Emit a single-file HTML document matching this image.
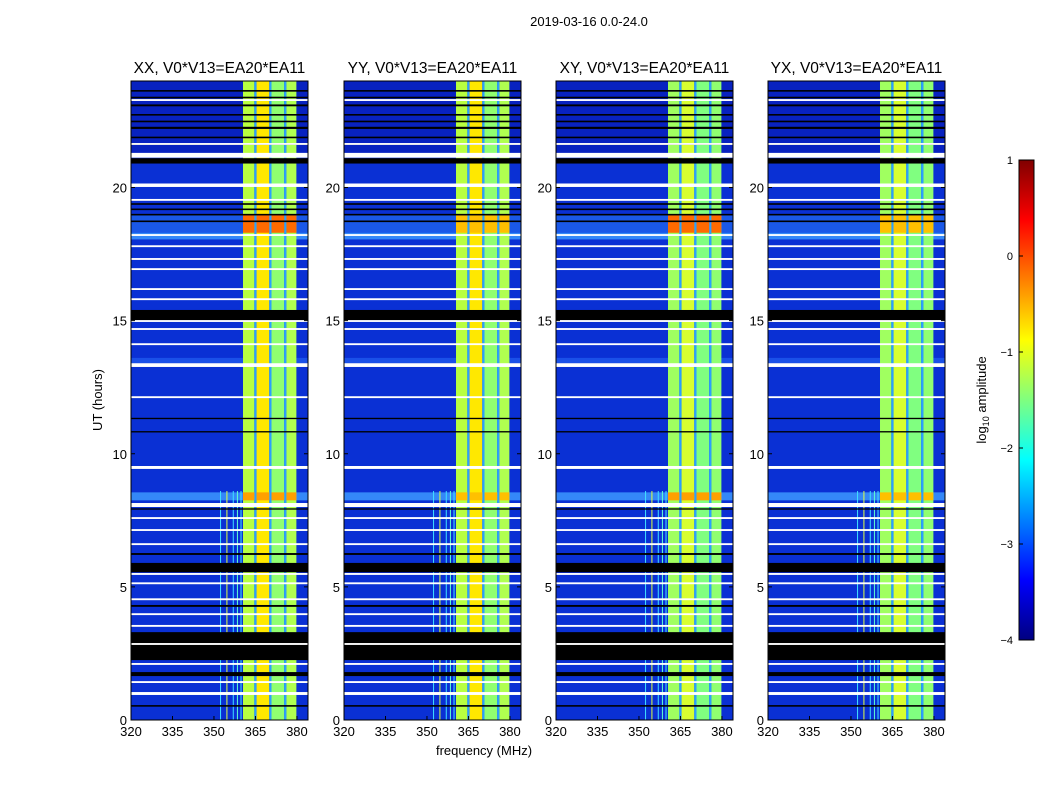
<!DOCTYPE html>
<html><head><meta charset="utf-8"><style>
body{margin:0;background:#fff;font-family:"Liberation Sans",sans-serif;}
svg text{font-family:"Liberation Sans",sans-serif;fill:#000;}
</style></head><body>
<svg id="fig" width="1050" height="800" viewBox="0 0 1050 800">
<defs>
<linearGradient id="jet" x1="0" y1="1" x2="0" y2="0">
<stop offset="0" stop-color="#000080"/><stop offset="0.125" stop-color="#0000ff"/>
<stop offset="0.375" stop-color="#00ffff"/><stop offset="0.625" stop-color="#ffff00"/>
<stop offset="0.875" stop-color="#ff0000"/><stop offset="1" stop-color="#800000"/>
</linearGradient>
</defs>
<text x="589" y="26" font-size="13" text-anchor="middle">2019-03-16 0.0-24.0</text>
<text x="484" y="755" font-size="13" text-anchor="middle">frequency (MHz)</text>
<text transform="translate(102,400) rotate(-90)" font-size="13" text-anchor="middle">UT (hours)</text>
<g id="panels"></g>
<g id="cbar">
<rect x="1019" y="160" width="15" height="480" fill="url(#jet)" stroke="#000" stroke-width="1"/>
</g>
<text transform="translate(986,400) rotate(-90)" font-size="13" text-anchor="middle">log<tspan font-size="9" dy="3">10</tspan><tspan dy="-3"> amplitude</tspan></text>
</svg>
<script>
// ---- data ----
const panelTitles = ["XX, V0*V13=EA20*EA11","YY, V0*V13=EA20*EA11","XY, V0*V13=EA20*EA11","YX, V0*V13=EA20*EA11"];
const xTicks = [320,335,350,365,380];
const yTicks = [0,5,10,15,20];
const cbTicks = [1,0,-1,-2,-3,-4];
const cbLabels = ["1","0","\u22121","\u22122","\u22123","\u22124"];
// RFI band sub-columns [startMHz, endMHz, colour, cross-pol colour]
const bandCols = [[360.5,364.6,"#b8ff40","#a0ff60"],[364.6,365.4,"#2aa0ff","#2aa0ff"],[365.4,370,"#ffe800","#d8ff30"],[370,370.8,"#2aa0ff","#2aa0ff"],[370.8,375.4,"#90ff70","#80ff80"],[375.4,376.2,"#2aa0ff","#2aa0ff"],[376.2,379.8,"#b0ff50","#90ff70"]];
// flagged (black) time ranges, hours
const flagStart = [20.9,15.0,5.55,2.25,1.65,23.6,23.35,23.05,22.7,22.45,22.2,21.85,21.6,19.35,19.15,18.95,18.7,11.3,10.8,7.9,6.2,4.25,0.5];
const flagEnd   = [21.1,15.4,5.9,3.3,1.8,23.66,23.41,23.12,22.76,22.51,22.28,21.91,21.66,19.41,19.21,19.01,18.76,11.35,10.85,7.95,6.27,4.32,0.56];
// blank (white) time rows, hours and height
const gapTime = [23.25,21.6,21.12,20.02,19.5,18.18,17.76,17.28,16.9,16.15,15.77,14.95,14.65,14.08,13.26,12.09,9.43,8.0,7.55,7.1,6.57,5.45,5.1,4.5,3.94,3.5,2.82,2.07,1.39,0.94];
const gapLen  = [0.07,0.07,0.18,0.13,0.07,0.07,0.07,0.07,0.07,0.07,0.07,0.07,0.07,0.07,0.14,0.07,0.11,0.15,0.07,0.07,0.07,0.07,0.07,0.07,0.07,0.07,0.07,0.07,0.07,0.11];
// bright rows: start, end, colour
const hotStart = [18.3,8.25,13.4,18.05];
const hotEnd   = [19.0,8.55,13.6,18.3];
const hotBand  = ["#ff6a00","#ffa000",null,null];
const hotBg    = ["#1a58e8","#3488f8","#1a50e8","#3488f8"];
// vertical RFI lines below 8.6h
const rfiLines = [352.2,354.5,356.8,358.3,359.6];
const rfiColor = ["#40e0ff","#e0ff40","#40e0ff","#60ffd0","#40e0ff"];

// ---- layout ----
const LEFTS=[131,344,556,768], PW=177, PTOP=81, PBOT=720, XMIN=320, XMAX=384, YMAX=24;
const SVGNS="http://www.w3.org/2000/svg";
function xs(l,f){return l+(f-XMIN)/(XMAX-XMIN)*PW;}
function ys(h){return PBOT-(h/YMAX)*(PBOT-PTOP);}
function mk(tag,attrs,parent){const e=document.createElementNS(SVGNS,tag);for(const k in attrs)e.setAttribute(k,attrs[k]);parent.appendChild(e);return e;}
const PG=document.getElementById("panels");
LEFTS.forEach((l,pi)=>{
  const cross = pi>=2;
  const g=mk("g",{},PG);
  
  
  mk("rect",{x:l,y:PTOP,width:PW,height:PBOT-PTOP,fill:"#0a30d4"},g);
  mk("rect",{x:l,y:ys(24),width:PW,height:ys(21.3)-ys(24),fill:"#0822c0"},g);
  hotStart.forEach((s,i)=>{mk("rect",{x:l,y:ys(hotEnd[i]),width:PW,height:ys(s)-ys(hotEnd[i]),fill:hotBg[i]},g);});
  bandCols.forEach(c=>{
    const b=mk("rect",{x:xs(l,c[0]),y:PTOP,width:xs(l,c[1])-xs(l,c[0]),height:PBOT-PTOP,fill:cross?c[3]:c[2]},g);
    
    
  });
  hotStart.forEach((s,i)=>{ if(hotBand[i]) bandCols.forEach(c=>{ if(c[2]!="#2aa0ff") mk("rect",{x:xs(l,c[0]),y:ys(hotEnd[i]),width:xs(l,c[1])-xs(l,c[0]),height:ys(s)-ys(hotEnd[i]),fill:(pi==0||pi==2)?hotBand[i]:"#ffc000"},g);});});
  rfiLines.forEach((f,i)=>{const r=mk("rect",{x:xs(l,f),y:ys(8.6),width:1,height:PBOT-ys(8.6),fill:rfiColor[i]},g);
    
    });
  flagStart.forEach((s,i)=>{const r=mk("rect",{x:l,y:ys(flagEnd[i]),width:PW,height:Math.max(1.2,ys(s)-ys(flagEnd[i])),fill:"#000"},g);
    
    });
  gapTime.forEach((t,i)=>{const r=mk("rect",{x:l,y:ys(t+gapLen[i]),width:PW,height:ys(t)-ys(t+gapLen[i]),fill:"#fff"},g);
    
    });
  mk("rect",{x:l,y:PTOP,width:PW,height:PBOT-PTOP,fill:"none",stroke:"#000","stroke-width":1},g);
  const t=mk("text",{x:l+PW/2,y:73,"font-size":15.5,"text-anchor":"middle"},g);
  t.textContent=panelTitles[pi];
  
  
  xTicks.forEach(v=>{const x=xs(l,v);
    mk("line",{x1:x,y1:PBOT,x2:x,y2:PBOT-4,stroke:"#000"},g);
    const tx=mk("text",{x:x,y:736,"font-size":13,"text-anchor":"middle"},g);tx.textContent=v;
    
    });
  yTicks.forEach(v=>{const y=ys(v);
    mk("line",{x1:l,y1:y,x2:l+4,y2:y,stroke:"#000"},g);
    mk("line",{x1:l+PW,y1:y,x2:l+PW-4,y2:y,stroke:"#000"},g);
    const ty=mk("text",{x:l-4,y:y+5,"font-size":13,"text-anchor":"end"},g);ty.textContent=v;
    
    });
});
const CBG=document.getElementById("cbar");
cbTicks.forEach((v,i)=>{const y=160+(1-v)/5*480;
  mk("line",{x1:1019,y1:y,x2:1023,y2:y,stroke:"#000"},CBG);
  const t=mk("text",{x:1013,y:y+4,"font-size":11,"text-anchor":"end"},CBG);t.textContent=cbLabels[i];
  
  });
</script>
</body></html>
